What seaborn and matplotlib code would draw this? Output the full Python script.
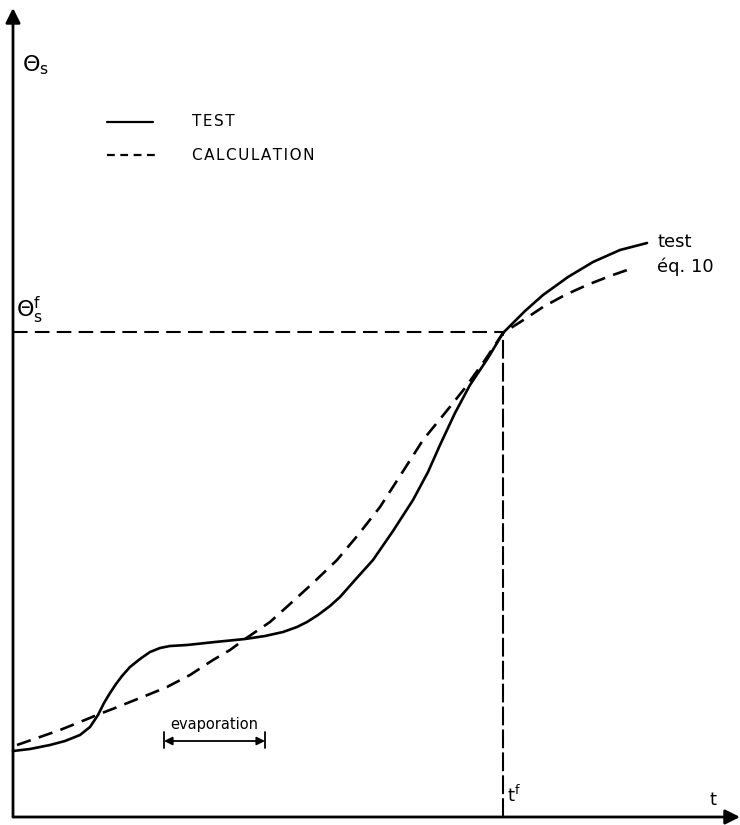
import matplotlib
matplotlib.use("Agg")
import matplotlib.pyplot as plt
import pandas as pd
import seaborn as sns

sns.set_style("white")
plt.rcParams["font.family"] = ["DejaVu Sans"]
plt.rcParams["mathtext.fontset"] = "dejavusans"
plt.rcParams["text.color"] = "black"

# Measured surface temperature (test)
test_t = [0.0, 1.7, 3.7, 5.2, 6.7, 7.7, 8.5, 9.1, 9.7, 10.3, 10.9, 11.7, 12.7, 13.7,
          14.7, 15.7, 17.4, 20.2, 23.2, 25.2, 27.0, 28.4, 29.4, 30.5, 31.7, 32.7,
          34.2, 36.0, 38.0, 40.0, 41.5, 42.7, 44.2, 45.7, 47.5, 49.0, 51.2, 53.0,
          55.5, 58.0, 60.7, 63.4]
test_theta = [6.6, 6.8, 7.2, 7.6, 8.2, 9.0, 10.2, 11.4, 12.4, 13.3, 14.1, 15.0, 15.8,
              16.5, 16.9, 17.1, 17.2, 17.5, 17.8, 18.1, 18.5, 19.0, 19.5, 20.2, 21.1,
              22.0, 23.7, 25.7, 28.6, 31.7, 34.5, 37.2, 40.4, 43.2, 45.9, 48.4, 50.6,
              52.2, 54.0, 55.5, 56.7, 57.4]

# Calculated surface temperature (eq. 10)
calc_t = [0.4, 2.7, 4.7, 6.7, 8.4, 10.2, 11.7, 13.7, 15.4, 17.7, 20.0, 21.7, 23.2,
          25.7, 27.7, 30.0, 32.4, 34.5, 36.7, 38.7, 41.0, 43.2, 45.2, 47.2, 49.0,
          51.2, 53.0, 55.2, 57.4, 59.7, 62.0]
calc_theta = [7.2, 8.0, 8.7, 9.5, 10.2, 10.9, 11.5, 12.3, 13.0, 14.2, 15.7, 16.7, 17.8,
              19.5, 21.3, 23.4, 25.7, 28.2, 31.0, 34.1, 37.7, 40.4, 42.9, 45.7, 48.4,
              49.8, 51.0, 52.2, 53.2, 54.1, 54.9]

# Final time and final surface temperature
t_final = 49.0
theta_final = 48.5

# Evaporation interval
evap_start, evap_end = 15.1, 25.2

test_df = pd.DataFrame({"t": test_t, "theta": test_theta})
calc_df = pd.DataFrame({"t": calc_t, "theta": calc_theta})

fig = plt.figure(figsize=(7.4, 8.25), dpi=100)
ax = fig.add_axes([0, 0, 1, 1])
ax.set_xlim(-1.3, 72.7)
ax.set_ylim(-0.8, 81.7)
ax.axis("off")

lw = 1.9
sns.lineplot(data=test_df, x="t", y="theta", ax=ax, color="black", lw=lw,
             legend=False, sort=False)
sns.lineplot(data=calc_df, x="t", y="theta", ax=ax, color="black", lw=lw,
             legend=False, sort=False)
ax.lines[-1].set_dashes((5.5, 3.2))
for ln in ax.lines:
    ln.set_solid_joinstyle("round")
    ln.set_dash_joinstyle("round")

# Reference lines to the final point
ax.plot([0, t_final], [theta_final, theta_final], color="black", lw=1.5, dashes=(7, 3.5))
ax.plot([t_final, t_final], [0, theta_final], color="black", lw=1.5, dashes=(9, 2))

# Axes with arrowheads
arrow_kw = dict(arrowstyle="-|>", color="black", lw=2.0, mutation_scale=22,
                shrinkA=0, shrinkB=0)
ax.annotate("", xy=(72.7, 0), xytext=(0, 0), arrowprops=arrow_kw)
ax.annotate("", xy=(0, 80.9), xytext=(0, 0), arrowprops=arrow_kw)

# Axis labels
ax.text(0.9, 75.2, r"$\Theta_\mathregular{s}$", fontsize=16, va="center", ha="left")
ax.text(0.3, 49.1, r"$\Theta_\mathregular{s}^\mathregular{f}$", fontsize=16,
        va="bottom", ha="left")
ax.text(69.6, 1.7, "t", fontsize=13, va="center", ha="left")
ax.text(49.4, 2.2, r"t$^{\mathregular{f}}$", fontsize=13, va="center", ha="left")

# Legend
hs = "\u200a"
ax.plot([9.4, 14.0], [69.5, 69.5], color="black", lw=1.6)
ax.plot([9.4, 14.5], [66.2, 66.2], color="black", lw=1.6, dashes=(3.5, 2.5))
ax.text(17.9, 69.5, hs.join("TEST"), fontsize=11, va="center", ha="left")
ax.text(17.9, 66.2, hs.join("CALCULATION"), fontsize=11, va="center", ha="left")

# Curve labels
ax.text(64.4, 57.5, "test", fontsize=13, va="center", ha="left")
ax.text(64.4, 55.0, "éq. 10", fontsize=13, va="center", ha="left")

# Evaporation interval marker
ax.annotate("", xy=(evap_end, 7.6), xytext=(evap_start, 7.6),
            arrowprops=dict(arrowstyle="<|-|>", color="black", lw=1.3,
                            mutation_scale=12, shrinkA=0, shrinkB=0))
ax.plot([evap_start, evap_start], [6.9, 8.5], color="black", lw=1.3)
ax.plot([evap_end, evap_end], [6.9, 8.5], color="black", lw=1.3)
ax.text((evap_start + evap_end) / 2, 8.5, "evaporation", fontsize=10.5,
        va="bottom", ha="center")

fig.savefig("out.png", dpi=100, facecolor="white")
